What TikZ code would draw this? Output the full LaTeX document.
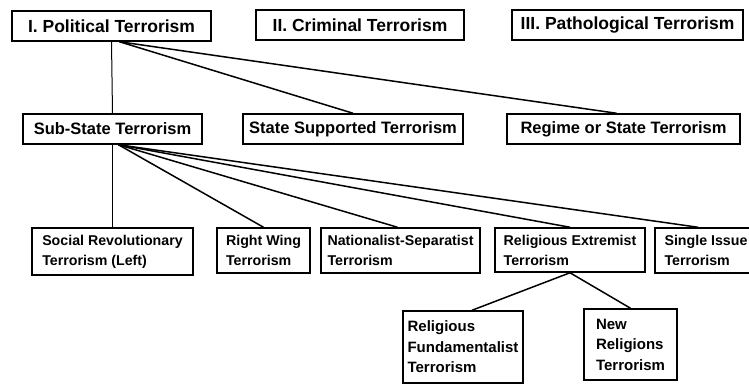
\documentclass[tikz,border=0pt]{standalone}
\usepackage{fontspec}
\setmainfont{Liberation Sans}

\tikzset{
  box/.style={draw, line width=1.5pt, align=left, inner sep=0pt,
    font=\bfseries\fontsize{16.5}{19}\selectfont},
  head box/.style={box, font=\bfseries\fontsize{17.5}{20}\selectfont},
  small box/.style={box, font=\bfseries\fontsize{14.2}{20}\selectfont},
  leaf box/.style={box, font=\bfseries\fontsize{15}{20.5}\selectfont},
  link/.style={line width=1.5pt},
  drop/.style={line width=1pt}
}

\begin{document}
\begin{tikzpicture}[x=1pt,y=-1pt]
  \fill[white] (0,0) rectangle (749,384);
  \useasboundingbox (0,0) rectangle (749,384);
  \clip (0,0) rectangle (749,384);

  % top row
  \node[head box, minimum width=199pt, minimum height=30pt] (pol)  at (111.5,26) {I. Political Terrorism};
  \node[head box, minimum width=208pt, minimum height=30pt] (crim) at (360,25) {II. Criminal Terrorism};
  \node[head box, minimum width=231pt, minimum height=30pt] (path) at (627.5,25) {III. Pathological Terrorism};

  % second row
  \node[box, minimum width=179pt, minimum height=30pt] (sub) at (112.5,129) {Sub-State Terrorism};
  \node[box, minimum width=220pt, minimum height=30pt] (ss)  at (353,129) {State Supported Terrorism};
  \node[box, minimum width=233pt, minimum height=30pt] (reg) at (623.5,129) {Regime or State Terrorism};

  % third row
  \node[small box, minimum width=161pt, minimum height=47pt] (soc) at (112.5,251.5) {Social Revolutionary\\Terrorism (Left)};
  \node[small box, minimum width=93pt, minimum height=45pt]  (rw)  at (263.5,250.5) {Right Wing\\Terrorism};
  \node[small box, minimum width=159pt, minimum height=45pt] (nat) at (400.5,250.5) {Nationalist-Separatist\\Terrorism};
  \node[small box, minimum width=150pt, minimum height=44pt] (rex) at (570,250) {Religious Extremist\\Terrorism};
  \node[small box, minimum width=102pt, minimum height=45pt] (si)  at (706,250.5) {Single Issue\\Terrorism};

  % fourth row
  \node[leaf box, minimum width=120pt, minimum height=72pt] (rf) at (463,347) {Religious\\Fundamentalist\\Terrorism};
  \node[leaf box, minimum width=93pt, minimum height=71pt]  (nr) at (630.5,344.5) {New\\Religions\\Terrorism};

  % connectors
  \draw[drop] (pol.south) -- (sub.north);
  \draw[link] ([xshift=8pt]pol.south) -- (ss.north);
  \draw[link] ([xshift=8pt]pol.south) -- ([xshift=-7pt]reg.north);

  \draw[drop] (sub.south) -- (soc.north);
  \foreach \n/\s in {rw/0pt, nat/-3pt, rex/0pt, si/-8pt}
    \draw[link] ([xshift=6pt]sub.south) -- ([xshift=\s]\n.north);

  \draw[link] (rex.south) -- ([xshift=9pt]rf.north);
  \draw[link] (rex.south) -- (nr.north);
\end{tikzpicture}
\end{document}
